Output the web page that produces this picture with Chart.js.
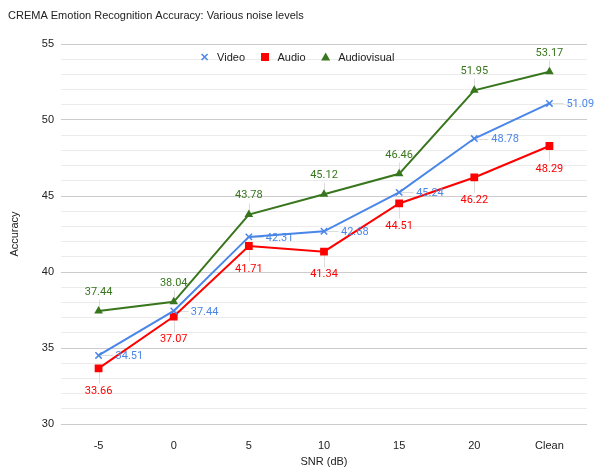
<!DOCTYPE html>
<html>
<head>
<meta charset="utf-8">
<script src="https://cdn.jsdelivr.net/npm/chart.js@4.4.0/dist/chart.umd.min.js"></script>
<style>
  html, body { margin: 0; padding: 0; background: #fff; }
  #wrap { width: 595px; height: 470px; }
</style>
</head>
<body>
<div id="wrap"><canvas id="accuracyChart" width="595" height="470"></canvas></div>
<script>
/* chart data */
const snrLabels = ["-5", "0", "5", "10", "15", "20", "Clean"];
const videoAccuracy = [34.51, 37.44, 42.31, 42.68, 45.24, 48.78, 51.09];
const audioAccuracy = [33.66, 37.07, 41.71, 41.34, 44.51, 46.22, 48.29];
const audiovisualAccuracy = [37.44, 38.04, 43.78, 45.12, 46.46, 51.95, 53.17];
const yMin = 30;
const yMax = 55;

const blue = "#4a86e8";
const red = "#ff0000";
const green = "#38761d";
const axisFont = { family: "Liberation Sans", size: 11 };

/* little marker shapes, shared by legend */
function drawMarker(ctx, style, x, y, color) {
  ctx.save();
  ctx.fillStyle = color;
  ctx.strokeStyle = color;
  ctx.lineWidth = 1.5;
  if (style === "crossRot") {
    ctx.beginPath();
    ctx.moveTo(x - 3, y - 3);
    ctx.lineTo(x + 3, y + 3);
    ctx.moveTo(x + 3, y - 3);
    ctx.lineTo(x - 3, y + 3);
    ctx.stroke();
  } else if (style === "rect") {
    ctx.fillRect(x - 4, y - 4, 8, 8);
  } else {
    ctx.beginPath();
    ctx.moveTo(x, y - 4.5);
    ctx.lineTo(x + 4.5, y + 3.5);
    ctx.lineTo(x - 4.5, y + 3.5);
    ctx.closePath();
    ctx.fill();
  }
  ctx.restore();
}

/* legend drawn inside the plot, centred on the page */
const insideLegend = {
  id: "insideLegend",
  beforeDatasetsDraw(chart) {
    const ctx = chart.ctx;
    const y = 57;
    ctx.save();
    ctx.font = "11px 'Liberation Sans'";
    ctx.textBaseline = "middle";
    ctx.textAlign = "left";
    const items = chart.data.datasets.map(ds => ({
      ds,
      w: ctx.measureText(ds.label).width
    }));
    const total = items.reduce((sum, it) => sum + 4 + 12.5 + it.w, 0) + 20 * (items.length - 1) - 4 * (items.length - 1);
    let x = (chart.width - total) / 2 + 4;
    items.forEach(it => {
      drawMarker(ctx, it.ds.pointStyle, x, y, it.ds.borderColor);
      ctx.fillStyle = "#222";
      ctx.fillText(it.ds.label, x + 12.5, y + 0.5);
      x += 12.5 + it.w + 20;
    });
    ctx.restore();
  }
};

/* value labels with little stems, google-sheets style */
const pointLabels = {
  id: "pointLabels",
  beforeDatasetsDraw(chart) {
    const ctx = chart.ctx;
    ctx.save();
    ctx.strokeStyle = "#dcdcdc";
    ctx.lineWidth = 1;
    chart.data.datasets.forEach((ds, i) => {
      chart.getDatasetMeta(i).data.forEach(pt => {
        const x = Math.round(pt.x) + 0.5;
        const y = Math.round(pt.y) + 0.5;
        ctx.beginPath();
        if (ds.labelPos === "right") {
          ctx.moveTo(x, y);
          ctx.lineTo(x + 14, y);
        } else if (ds.labelPos === "above") {
          ctx.moveTo(x, y);
          ctx.lineTo(x, y - 12);
        } else {
          ctx.moveTo(x, y);
          ctx.lineTo(x, y + 15);
        }
        ctx.stroke();
      });
    });
    ctx.restore();
  },
  afterDatasetsDraw(chart) {
    const ctx = chart.ctx;
    ctx.save();
    ctx.font = "11px Roboto";
    ctx.textBaseline = "middle";
    chart.data.datasets.forEach((ds, i) => {
      ctx.fillStyle = ds.borderColor;
      chart.getDatasetMeta(i).data.forEach((pt, j) => {
        const text = ds.data[j].toFixed(2);
        if (ds.labelPos === "right") {
          ctx.textAlign = "left";
          ctx.fillText(text, pt.x + 17, pt.y + 1);
        } else if (ds.labelPos === "above") {
          ctx.textAlign = "center";
          ctx.fillText(text, pt.x, pt.y - 19);
        } else {
          ctx.textAlign = "center";
          ctx.fillText(text, pt.x, pt.y + 23);
        }
      });
    });
    ctx.restore();
  }
};

const accuracyChart = new Chart(document.querySelector("#accuracyChart"), {
  type: "line",
  data: {
    labels: snrLabels,
    datasets: [
      {
        label: "Video",
        data: videoAccuracy,
        borderColor: blue,
        backgroundColor: blue,
        borderWidth: 2,
        pointStyle: "crossRot",
        pointRadius: 4.5,
        pointBorderWidth: 1.5,
        labelPos: "right"
      },
      {
        label: "Audio",
        data: audioAccuracy,
        borderColor: red,
        backgroundColor: red,
        borderWidth: 2,
        pointStyle: "rect",
        pointRadius: 5.5,
        pointBorderWidth: 0,
        labelPos: "below"
      },
      {
        label: "Audiovisual",
        data: audiovisualAccuracy,
        borderColor: green,
        backgroundColor: green,
        borderWidth: 2,
        pointStyle: "triangle",
        pointRadius: 5,
        pointBorderWidth: 0,
        labelPos: "above"
      }
    ]
  },
  options: {
    responsive: false,
    animation: false,
    devicePixelRatio: 1,
    layout: {
      padding: { left: 8, right: 8, top: 0, bottom: 0 }
    },
    plugins: {
      title: {
        display: true,
        text: "CREMA Emotion Recognition Accuracy: Various noise levels",
        align: "start",
        color: "#222",
        font: { family: "Liberation Sans", size: 11, weight: "normal" },
        padding: { top: 9.5, bottom: 21.3 }
      },
      legend: { display: false },
      tooltip: { enabled: false }
    },
    scales: {
      x: {
        offset: true,
        grid: { display: false },
        border: { display: false },
        ticks: {
          color: "#222",
          padding: 7,
          font: axisFont
        },
        title: {
          display: true,
          text: "SNR (dB)",
          color: "#222",
          font: axisFont,
          padding: { top: 0, bottom: 1 }
        },
        afterFit(scale) {
          scale.height = 46;
        }
      },
      y: {
        min: yMin,
        max: yMax,
        ticks: {
          stepSize: 1,
          autoSkip: false,
          color: "#222",
          padding: 7,
          font: axisFont,
          callback: value => (value % 5 === 0 ? value : "")
        },
        grid: {
          drawTicks: false,
          color: ctx => (ctx.tick && ctx.tick.value % 5 === 0 ? "#cccccc" : "#ebebeb")
        },
        border: { display: false },
        title: {
          display: true,
          text: "Accuracy",
          color: "#222",
          font: axisFont,
          padding: 0
        },
        afterFit(scale) {
          scale.width = 53;
        }
      }
    }
  },
  plugins: [insideLegend, pointLabels]
});
</script>
</body>
</html>
